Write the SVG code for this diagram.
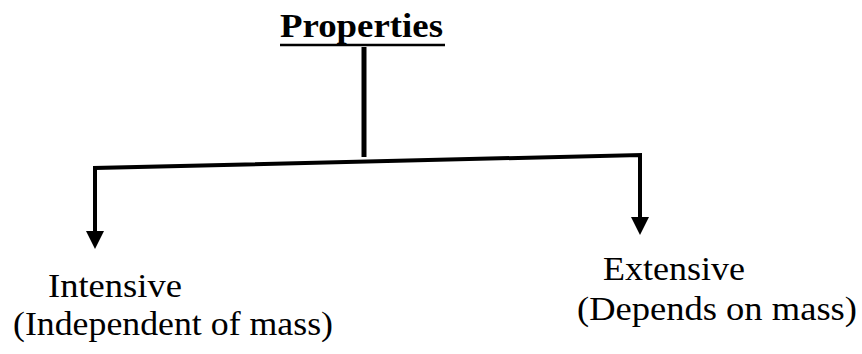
<svg xmlns="http://www.w3.org/2000/svg" width="862" height="354" viewBox="0 0 862 354">
<style>
.t{font-family:"Liberation Serif","Times New Roman",serif;fill:#000;}
.b{font-weight:bold;}
.ln{stroke:#000;fill:none;stroke-linejoin:miter;}
</style>
<rect width="862" height="354" fill="#fff"/>
<g id="connectors">
<line class="ln" x1="364" y1="47" x2="364" y2="157" stroke-width="5"/>
<path class="ln" d="M95,240 L95,168 L640,155 L640,226" stroke-width="4"/>
<polygon points="86,231 104,231 95,249" fill="#000"/>
<polygon points="631,217 649,217 640,235" fill="#000"/>
</g>
<g id="properties">
<text class="t b" x="280" y="37" font-size="33" textLength="163" lengthAdjust="spacingAndGlyphs">Properties</text>
<line x1="280" y1="45" x2="445" y2="45" stroke="#000" stroke-width="2.5"/>
</g>
<g id="intensive">
<text class="t" x="48" y="297" font-size="33" textLength="134" lengthAdjust="spacingAndGlyphs">Intensive</text>
<text class="t" x="13" y="335" font-size="33" textLength="320" lengthAdjust="spacingAndGlyphs">(Independent of mass)</text>
</g>
<g id="extensive">
<text class="t" x="603" y="280" font-size="33" textLength="142" lengthAdjust="spacingAndGlyphs">Extensive</text>
<text class="t" x="577" y="320" font-size="33" textLength="280" lengthAdjust="spacingAndGlyphs">(Depends on mass)</text>
</g>
</svg>
